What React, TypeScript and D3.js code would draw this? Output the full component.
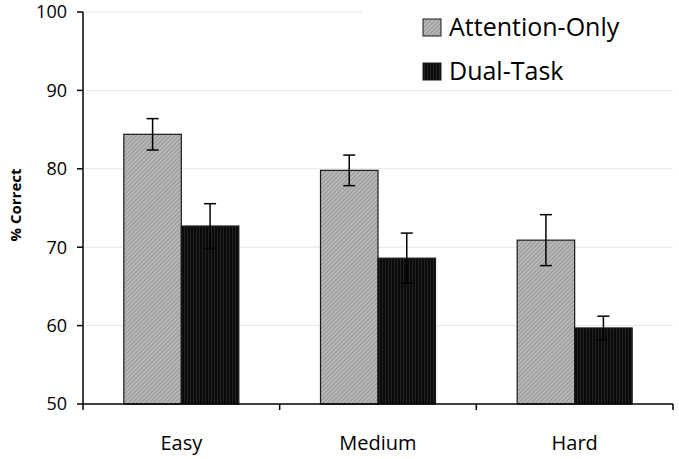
import React from 'react';
import * as d3 from 'd3';

// data
const categories = ['Easy', 'Medium', 'Hard'];
const seriesNames = ['Attention-Only', 'Dual-Task'];
const attentionOnly = [84.4, 79.8, 70.9];
const attentionErr = [2.0, 1.95, 3.25];
const dualTask = [72.7, 68.6, 59.7];
const dualErr = [2.85, 3.2, 1.5];
const yTicks = [50, 60, 70, 80, 90, 100];

const W = 679;
const H = 459;
const left = 83;
const right = 673;
const top = 12;
const bottom = 404;

const App = () => {
  const x = d3.scaleBand().domain(categories).range([left, right]);
  const inner = d3.scaleBand().domain(seriesNames).range([0, 115]);
  const y = d3.scaleLinear().domain([50, 100]).range([bottom, top]);

  const series = [
    { name: seriesNames[0], values: attentionOnly, errs: attentionErr, fill: 'url(#hatchA)' },
    { name: seriesNames[1], values: dualTask, errs: dualErr, fill: 'url(#hatchB)' },
  ];

  const font = "'Open Sans', 'Noto Sans', sans-serif";
  const groupOffset = (x.bandwidth() - 115) / 2;

  return (
    <svg width={W} height={H} style={{ position: 'absolute', left: 0, top: 0, background: '#fff' }}>
      <defs>
        <pattern id="hatchA" patternUnits="userSpaceOnUse" width="3" height="3" patternTransform="rotate(45)">
          <rect width="3" height="3" fill="#b8b8b8" />
          <line x1="0" y1="0" x2="0" y2="3" stroke="#747474" strokeWidth="1" />
        </pattern>
        <pattern id="hatchB" patternUnits="userSpaceOnUse" width="3" height="3">
          <rect width="3" height="3" fill="#0a0a0a" />
          <line x1="1.5" y1="0" x2="1.5" y2="3" stroke="#2a2a2a" strokeWidth="0.8" />
        </pattern>
      </defs>

      {/* gridlines */}
      {yTicks.filter((t) => t > 50).map((t) => (
        <line key={t} x1={left} x2={right} y1={y(t)} y2={y(t)} stroke="#e6e6e6" strokeWidth={1} />
      ))}

      {/* bars */}
      {series.map((s) =>
        categories.map((c, i) => {
          const bx = (x(c) as number) + groupOffset + (inner(s.name) as number);
          return (
            <rect
              key={s.name + c}
              x={bx}
              y={y(s.values[i])}
              width={inner.bandwidth()}
              height={bottom - y(s.values[i])}
              fill={s.fill}
              stroke="#1a1a1a"
              strokeWidth={1.2}
            />
          );
        })
      )}

      {/* error bars */}
      {series.map((s) =>
        categories.map((c, i) => {
          const cx = (x(c) as number) + groupOffset + (inner(s.name) as number) + inner.bandwidth() / 2;
          const hi = y(s.values[i] + s.errs[i]);
          const lo = y(s.values[i] - s.errs[i]);
          return (
            <g key={'e' + s.name + c} stroke="#000" strokeWidth={1.5}>
              <line x1={cx} x2={cx} y1={hi} y2={lo} />
              <line x1={cx - 6} x2={cx + 6} y1={hi} y2={hi} />
              <line x1={cx - 6} x2={cx + 6} y1={lo} y2={lo} />
            </g>
          );
        })
      )}

      {/* y axis */}
      <line x1={left} x2={left} y1={top} y2={bottom} stroke="#000" strokeWidth={1.5} />
      {yTicks.map((t) => (
        <g key={'yt' + t}>
          <line x1={left - 6} x2={left} y1={y(t)} y2={y(t)} stroke="#000" strokeWidth={1.5} />
          <text x={left - 16} y={y(t)} dy="0.36em" textAnchor="end" fontFamily={font} fontSize={18} fill="#000">
            {t}
          </text>
        </g>
      ))}

      {/* x axis */}
      <line x1={left} x2={right} y1={bottom} y2={bottom} stroke="#000" strokeWidth={1.5} />
      {[...categories.map((c) => x(c) as number), right].map((px, i) => (
        <line key={'xt' + i} x1={px} x2={px} y1={bottom} y2={bottom + 6} stroke="#000" strokeWidth={1.5} />
      ))}
      {categories.map((c) => (
        <text
          key={'xl' + c}
          x={(x(c) as number) + x.bandwidth() / 2}
          y={450}
          textAnchor="middle"
          fontFamily={font}
          fontSize={20}
          fill="#000"
        >
          {c}
        </text>
      ))}

      <text
        transform={`translate(21, 205) rotate(-90)`}
        textAnchor="middle"
        fontFamily={font}
        fontSize={15}
        fontWeight="bold"
        fill="#000"
      >
        % Correct
      </text>

      {/* legend */}
      <rect x={362} y={0} width={317} height={84} fill="#fff" />
      {series.map((s, i) => (
        <g key={'lg' + s.name} transform={`translate(423, ${19 + i * 44})`}>
          <rect x={0} y={0} width={18} height={17} fill={s.fill} stroke="#1a1a1a" strokeWidth={1} />
          <text x={26} y={17} fontFamily={font} fontSize={25} fill="#000">
            {s.name}
          </text>
        </g>
      ))}
    </svg>
  );
};

export default App;
